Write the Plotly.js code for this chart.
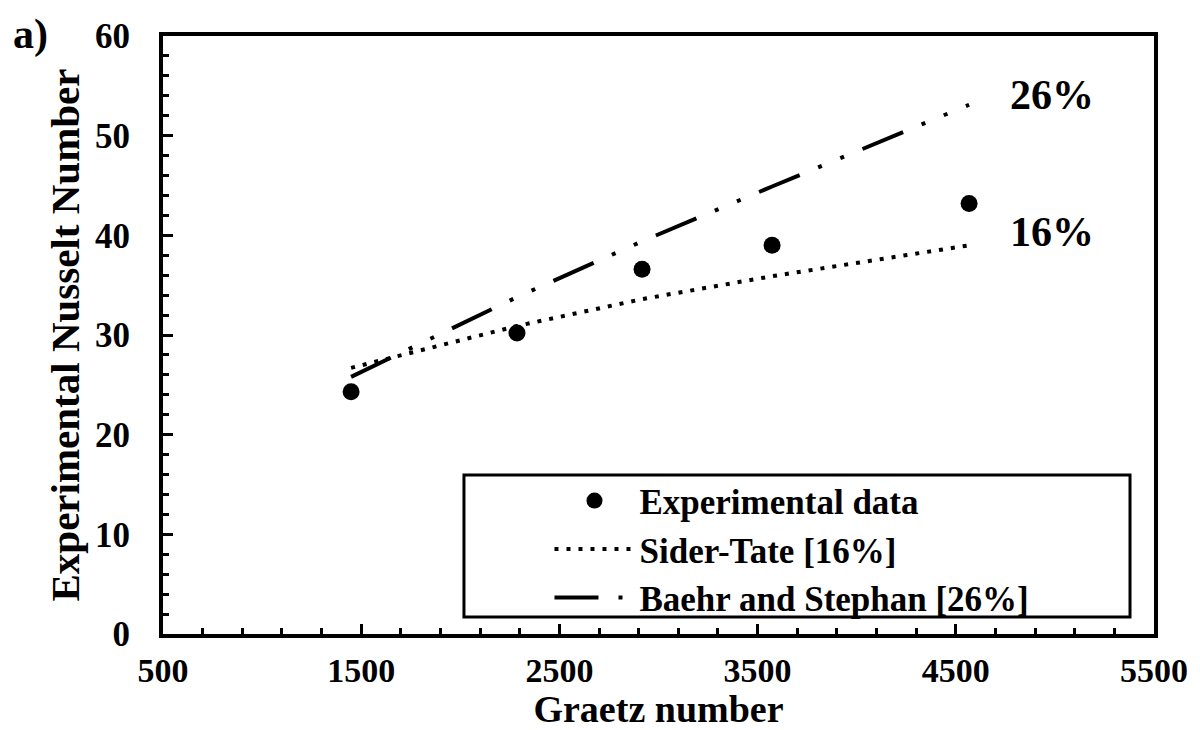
<!DOCTYPE html>
<html>
<head>
<meta charset="utf-8">
<script src="https://cdn.plot.ly/plotly-3.0.1.min.js"></script>
<style>html,body{margin:0;padding:0;background:#fff;}#chart{width:1200px;height:730px;}</style>
</head>
<body>
<div id="chart"></div>
<script>
// Graetz number of each measurement
const graetz = [1449, 2286, 2917, 3573, 4567];
// Experimental Nusselt number
const nuExperimental = [24.3, 30.2, 36.6, 39.0, 43.2];
// Sider-Tate correlation
const nuSiderTate = [26.7, 30.9, 33.6, 35.9, 39.0];
// Baehr and Stephan correlation
const nuBaehrStephan = [25.8, 33.8, 39.4, 44.9, 53.1];

const seriesNames = ["Experimental data", "Sider-Tate [16%]", "Baehr and Stephan [26%]"];
const deviationLabels = ["26%", "16%"];
const xTickVals = [500, 1500, 2500, 3500, 4500, 5500];
const yTickVals = [0, 10, 20, 30, 40, 50, 60];

const FONT = "Liberation Serif, Times New Roman, serif";
const f = (size) => ({family: FONT, size: size, color: "#000", weight: "bold"});

const traces = [
  {x: graetz, y: nuExperimental, name: seriesNames[0], type: "scatter", mode: "markers",
   marker: {color: "#000", size: 17}},
  {x: graetz, y: nuSiderTate, name: seriesNames[1], type: "scatter", mode: "lines",
   line: {color: "#000", width: 4, dash: "4px,8px"}},
  {x: graetz, y: nuBaehrStephan, name: seriesNames[2], type: "scatter", mode: "lines",
   line: {color: "#000", width: 4, dash: "44px,20px,4px,20px,4px,20px"}}
];

const axisCommon = {
  showgrid: false, zeroline: false, showline: true, mirror: true,
  linecolor: "#000", linewidth: 4,
  ticks: "inside", ticklen: 10, tickwidth: 3, tickcolor: "#000",
  tickfont: f(35)
};

const layout = {
  width: 1200, height: 730,
  margin: {l: 163, r: 46, t: 36, b: 96},
  paper_bgcolor: "#fff", plot_bgcolor: "#fff",
  showlegend: true,
  xaxis: Object.assign({}, axisCommon, {
    range: [500, 5500], tickmode: "array", tickvals: xTickVals,
    ticktext: xTickVals.map(String),
    tickfont: f(34),
    minor: {dtick: 200, ticks: "inside", ticklen: 6, tickwidth: 3, tickcolor: "#000", tick0: 500},
    ticklabelstandoff: 3,
    title: {text: "Graetz number", font: f(38), standoff: 18}
  }),
  yaxis: Object.assign({}, axisCommon, {
    range: [0, 60], tickmode: "array", tickvals: yTickVals,
    ticktext: yTickVals.map(String),
    minor: {dtick: 2, ticks: "inside", ticklen: 6, tickwidth: 3, tickcolor: "#000", tick0: 0},
    ticklabelstandoff: 22,
    title: {text: "Experimental Nusselt Number", font: f(41), standoff: 4}
  }),
  legend: {
    x: 0.39, y: 0.272, xanchor: "left", yanchor: "top",
    bgcolor: "rgba(0,0,0,0)", borderwidth: 0,
    font: f(35), itemwidth: 80, tracegroupgap: 0
  },
  shapes: [
    {type: "rect", xref: "paper", yref: "paper", x0: 0.3037, x1: 0.9758, y0: 0.0284, y1: 0.2659,
     line: {color: "#000", width: 3}, fillcolor: "rgba(0,0,0,0)", layer: "below"}
  ],
  annotations: [
    {x: 4985, y: 54.1, xref: "x", yref: "y", text: deviationLabels[0], showarrow: false, font: f(42)},
    {x: 4985, y: 40.3, xref: "x", yref: "y", text: deviationLabels[1], showarrow: false, font: f(42)},
    {x: 0, y: 0, xref: "paper", yref: "paper", text: "a)", showarrow: false, font: f(42),
     xanchor: "center", yanchor: "middle"}
  ]
};
// "a)" label is positioned in pixels relative to the page
layout.annotations[2].x = (30 - 163) / (1200 - 163 - 46);
layout.annotations[2].y = (730 - 96 - 34) / (730 - 36 - 96);

Plotly.newPlot("chart", traces, layout, {displayModeBar: false, staticPlot: true});
</script>
</body>
</html>
